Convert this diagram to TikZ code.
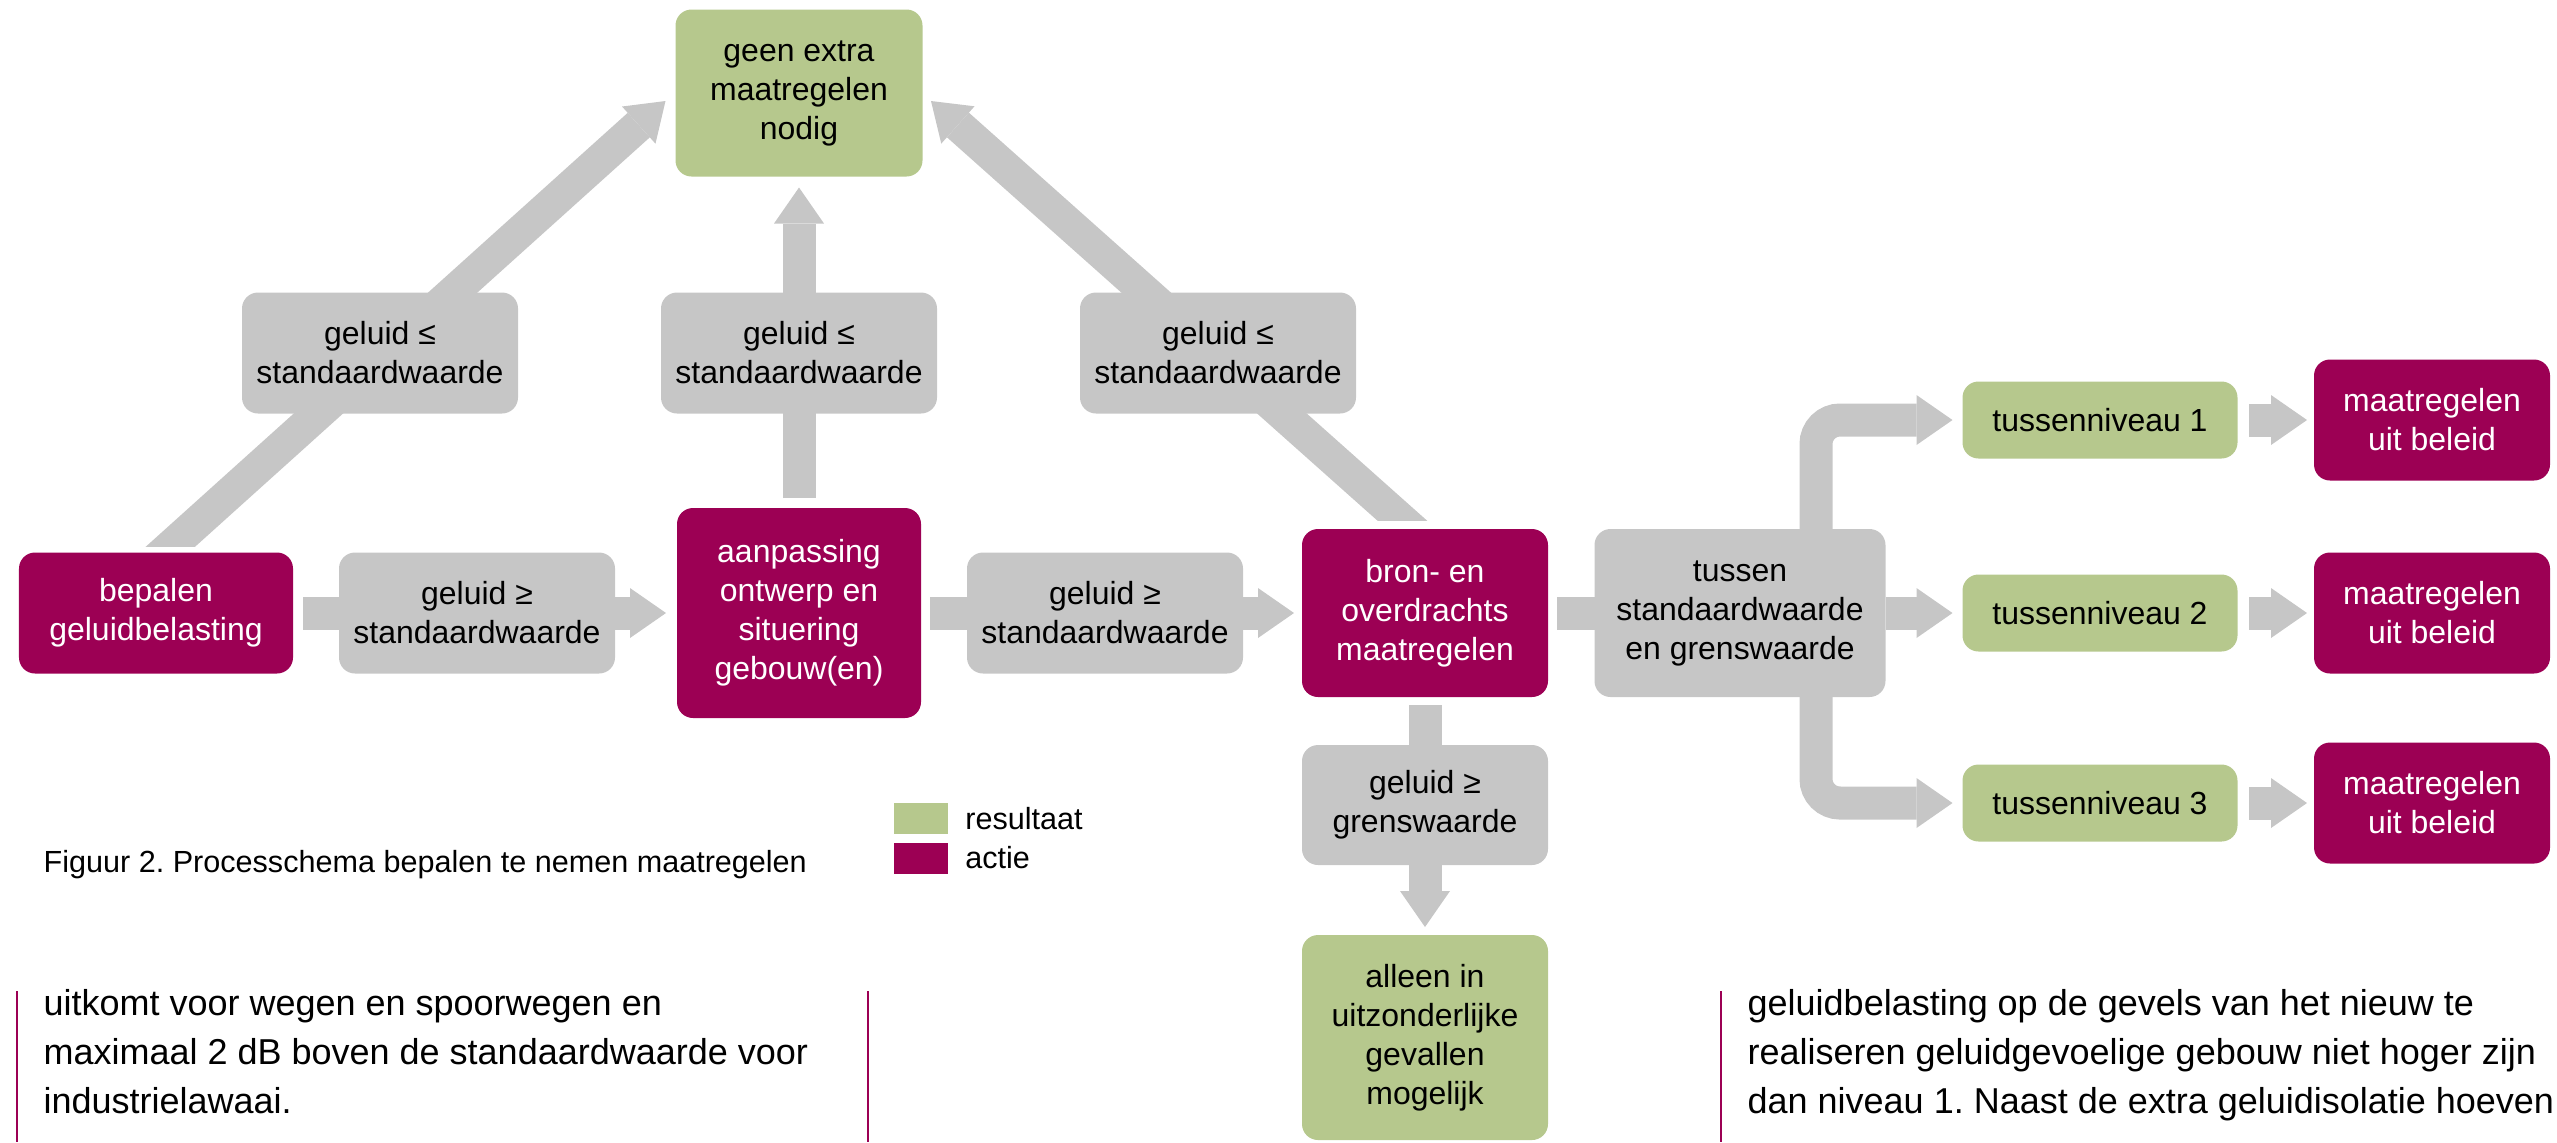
\documentclass[tikz,border=0pt]{standalone}
\usepackage{fontspec}
\setmainfont{Liberation Sans}
\frenchspacing
\usetikzlibrary{positioning,calc,arrows.meta,backgrounds}
\definecolor{ActiePurple}{HTML}{9C0054}
\definecolor{ResultGreen}{HTML}{B6C88D}
\definecolor{FlowGray}{HTML}{C6C6C6}
\tikzset{
    box/.style = {rectangle, rounded corners=0.16cm, inner sep=0pt, outer sep=0pt,
        align=center, font=\fontsize{9.1}{11.1}\selectfont},
    actie/.style = {box, fill=ActiePurple, text=white},
    resultaat/.style = {box, fill=ResultGreen},
    cond/.style = {box, fill=FlowGray, minimum width=2.76cm, minimum height=1.21cm},
    flow/.style = {draw=FlowGray, line width=0.33cm,
        -{Triangle[width=0.5cm,length=0.36cm,line width=0pt]}},
    flowline/.style = {draw=FlowGray, line width=0.33cm},
    legendbox/.style = {fill=#1, minimum width=0.54cm, minimum height=0.31cm, inner sep=0pt},
    legendtext/.style = {inner sep=0pt, font=\fontsize{8.7}{10.4}\selectfont},
    bodytext/.style = {anchor=base west, inner sep=0pt, font=\fontsize{10.24}{13.94}\selectfont}
}

\begin{document}
\begin{tikzpicture}[x=1cm, y=1cm]
    \useasboundingbox (0,0) rectangle (25.57,-11.42);
    % hoofdrij
    \node [actie, minimum width=2.74cm, minimum height=1.21cm] (bepalen) at (1.56,-6.13) {bepalen\\geluidbelasting};
    \node [cond] (groter1) at (4.77,-6.13) {geluid ≥\\standaardwaarde};
    \node [actie, minimum width=2.44cm, minimum height=2.10cm] (aanpassing) at (7.99,-6.13) {aanpassing\\ontwerp en\\situering\\gebouw(en)};
    \node [cond] (groter2) at (11.05,-6.13) {geluid ≥\\standaardwaarde};
    \node [actie, minimum width=2.46cm, minimum height=1.68cm] (bron) at (14.25,-6.13) {bron- en\\overdrachts\\maatregelen};
    \node [cond, minimum width=2.91cm, minimum height=1.68cm] (tussen) at (17.40,-6.13) {tussen\\standaardwaarde\\en grenswaarde};
    % bovenkant
    \node [resultaat, minimum width=2.47cm, minimum height=1.67cm] (geen) at (7.99,-0.93) {geen extra\\maatregelen\\nodig};
    \node [cond] (kleiner1) at (3.80,-3.53) {geluid ≤\\standaardwaarde};
    \node [cond] (kleiner2) at (7.99,-3.53) {geluid ≤\\standaardwaarde};
    \node [cond] (kleiner3) at (12.18,-3.53) {geluid ≤\\standaardwaarde};
    % onder bron
    \node [cond, minimum width=2.46cm, minimum height=1.20cm] (grens) at (14.25,-8.05) {geluid ≥\\grenswaarde};
    \node [resultaat, minimum width=2.46cm, minimum height=2.05cm] (alleen) at (14.25,-10.375) {alleen in\\uitzonderlijke\\gevallen\\mogelijk};
    % tussenniveaus
    \foreach \n/\y in {1/-4.20, 2/-6.13, 3/-8.03}{
        \node [resultaat, minimum width=2.75cm, minimum height=0.77cm] (niveau\n) at (21.00,\y) {tussenniveau \n};
        \node [actie, minimum width=2.36cm, minimum height=1.21cm, right of=niveau\n, node distance=3.32cm] (beleid\n) {maatregelen\\uit beleid};
        \draw [flow, shorten <=0.115cm, shorten >=0.07cm] (niveau\n) -- (beleid\n);
    }
    \coordinate (splits) at (18.16,-6.13);
    \begin{scope}[on background layer]
        \draw [flow, shorten <=0.1cm, shorten >=0.11cm] (bepalen) -- (aanpassing);
        \draw [flow, shorten <=0.09cm, shorten >=0.08cm] (aanpassing) -- (bron);
        \draw [flowline, shorten <=0.09cm] (bron) -- (tussen);
        \draw [flow, shorten >=0.1cm] (tussen) -- (niveau2);
        \draw [flow, rounded corners=0.24cm, shorten >=0.1cm] (splits) |- (niveau1);
        \draw [flow, rounded corners=0.24cm, shorten >=0.1cm] (splits) |- (niveau3);
        \draw [flow, shorten <=0.1cm, shorten >=0.11cm] (aanpassing) -- (geen);
        \draw [flow, shorten <=0.08cm, shorten >=0.08cm] (bron) -- (alleen);
        \begin{scope}
            \clip ([yshift=0.065cm]bepalen.north west) rectangle (geen.north east);
            \draw [flow] ($(bepalen.north)+(-0.07,-0.135)$) -- ($(geen.west)+(-0.1,-0.08)$);
        \end{scope}
        \begin{scope}
            \clip ([yshift=0.09cm]bron.north east) rectangle (geen.north west);
            \draw [flow] ($(bron.north)+(-0.01,-0.11)$) -- ($(geen.east)+(0.085,-0.08)$);
        \end{scope}
    \end{scope}
    % legenda en onderschrift
    \node [legendbox=ResultGreen] (legres) at (9.21,-8.185) {};
    \node [legendbox=ActiePurple] (legact) at (9.21,-8.58) {};
    \node [legendtext, right=0.16cm of legres] (legrestekst) {resultaat};
    \node [legendtext, right=0.16cm of legact] (legacttekst) {actie};
    \node [legendtext, anchor=base west] (onderschrift) at (0.43,-8.72) {Figuur 2. Processchema bepalen te nemen maatregelen};
    % lopende tekst
    \foreach \tekst [count=\i] in {uitkomt voor wegen en spoorwegen en, maximaal 2 dB boven de standaardwaarde voor, industrielawaai.}{
        \node [bodytext] (links\i) at (0.43,{-10.15-0.49*(\i-1)}) {\tekst};
    }
    \foreach \tekst [count=\i] in {geluidbelasting op de gevels van het nieuw te, realiseren geluidgevoelige gebouw niet hoger zijn, dan niveau 1. Naast de extra geluidisolatie hoeven}{
        \node [bodytext] (rechts\i) at (17.47,{-10.15-0.49*(\i-1)}) {\tekst};
    }
    \draw [ActiePurple, line width=0.5pt] (0.17,-9.91) -- (0.17,-11.42);
    \draw [ActiePurple, line width=0.5pt] (8.68,-9.91) -- (8.68,-11.42);
    \draw [ActiePurple, line width=0.5pt] (17.21,-9.91) -- (17.21,-11.42);
\end{tikzpicture}
\end{document}
